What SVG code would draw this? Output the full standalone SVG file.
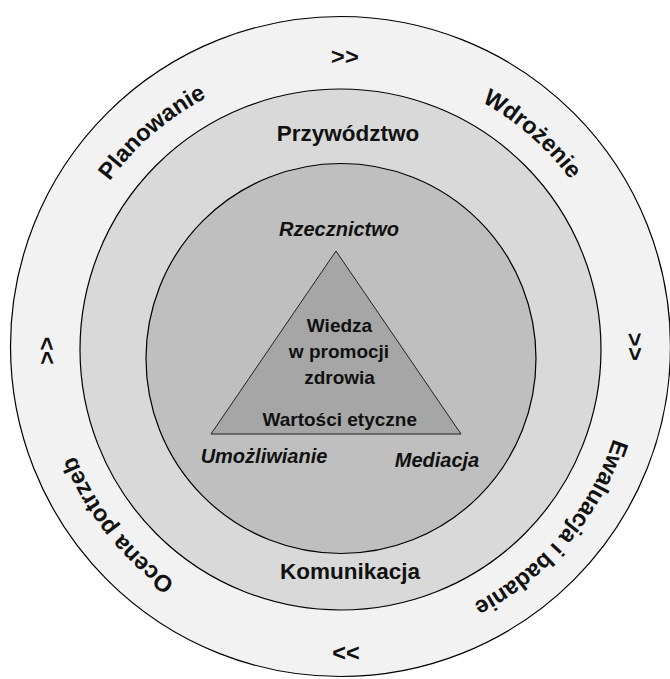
<svg xmlns="http://www.w3.org/2000/svg" width="670" height="679" viewBox="0 0 670 679">
<style>
  .ring { stroke: #000; stroke-width: 1.2; }
  .t { font-family: "Liberation Sans", Arial, sans-serif; font-weight: bold; fill: #111; text-anchor: middle; }
  .big { font-size: 22.5px; }
  .mid { font-size: 19px; }
  .it { font-style: italic; font-size: 20px; }
  .arc { font-size: 23.5px; }
</style>
<defs>
  <path id="ringPath" d="M243.5,617.8 A285,285 0 1,1 438.5,82.2 A285,285 0 1,1 243.5,617.8"/>
</defs>
<rect width="670" height="679" fill="#fff"/>
<g id="outer-ring">
  <circle cx="340.5" cy="346.5" r="330" fill="#f2f2f2" class="ring"/>
</g>
<g id="middle-ring">
  <circle cx="340.5" cy="349.5" r="260.5" fill="#d9d9d9" class="ring"/>
</g>
<g id="inner-ring">
  <circle cx="341" cy="358.5" r="195" fill="#bfbfbf" class="ring"/>
</g>
<g id="triangle">
  <polygon points="336,251 211,434 461,434" fill="#a6a6a6" stroke="#222" stroke-width="1"/>
  <text class="t mid" x="339.5" y="332">Wiedza</text>
  <text class="t mid" x="339" y="358">w promocji</text>
  <text class="t mid" x="339.5" y="384">zdrowia</text>
  <text class="t mid" x="339.7" y="426">Wartości etyczne</text>
</g>
<g id="inner-labels">
  <text class="t it" x="339" y="236">Rzecznictwo</text>
  <text class="t it" x="264" y="463">Umożliwianie</text>
  <text class="t it" x="437" y="467">Mediacja</text>
</g>
<g id="middle-labels">
  <text class="t big" x="348" y="141">Przywództwo</text>
  <text class="t big" x="350" y="579">Komunikacja</text>
</g>
<g id="cycle-stages">
  <text class="t arc"><textPath href="#ringPath" startOffset="159.2">Ocena potrzeb</textPath></text>
  <text class="t arc"><textPath href="#ringPath" startOffset="594">Planowanie</textPath></text>
  <text class="t arc"><textPath href="#ringPath" startOffset="1004.8">Wdrożenie</textPath></text>
  <text class="t arc"><textPath href="#ringPath" startOffset="1447.5">Ewaluacja i badanie</textPath></text>
</g>
<g id="connectors">
  <text class="t arc"><textPath href="#ringPath" startOffset="348.2">&gt;&gt;</textPath></text>
  <text class="t arc"><textPath href="#ringPath" startOffset="801.9">&gt;&gt;</textPath></text>
  <text class="t arc"><textPath href="#ringPath" startOffset="1243.5">&gt;&gt;</textPath></text>
  <text class="t arc" x="346" y="661">&lt;&lt;</text>
</g>
</svg>
